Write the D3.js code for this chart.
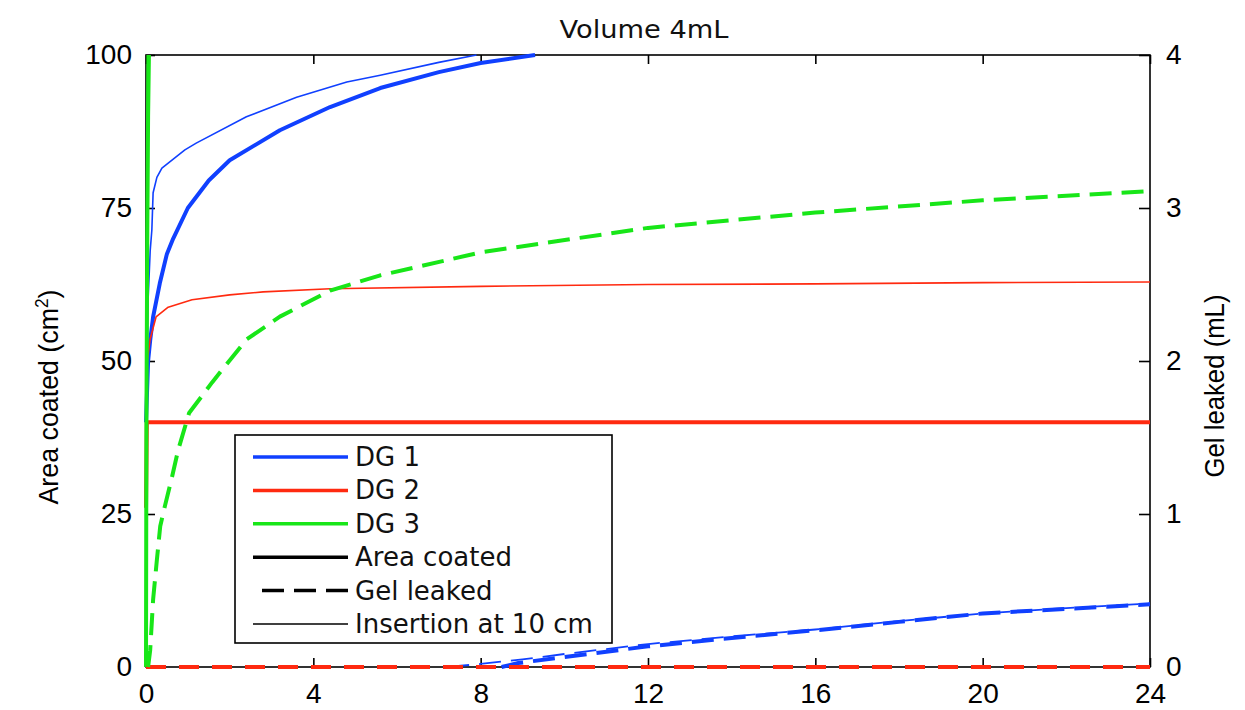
<!DOCTYPE html>
<html>
<head>
<meta charset="utf-8">
<script src="https://cdn.jsdelivr.net/npm/d3@7"></script>
<style>
  html, body { margin: 0; padding: 0; background: #fff; }
  svg { display: block; }
</style>
</head>
<body>
<svg id="chart" width="1245" height="710"></svg>
<script>
// ---------- data (time in hours, area in cm^2, gel in mL) ----------
const title = "Volume 4mL";
const xTicks = [0, 4, 8, 12, 16, 20, 24];
const yLeftTicks = [0, 25, 50, 75, 100];
const yRightTicks = [0, 1, 2, 3, 4];

// Area coated (left axis)
const dg1Area = [[0,40],[0.05,50],[0.1,53.4],[0.17,57.2],[0.33,62.7],[0.5,67.5],[0.65,70],[1,75],[1.5,79.5],[2,82.8],[3.2,87.7],[4.4,91.5],[5.6,94.6],[7,97.2],[8,98.7],[9.3,100]];
const dg1AreaIns = [[0,40],[0.05,60],[0.1,68],[0.14,71.4],[0.17,77.5],[0.26,80],[0.38,81.5],[0.93,84.5],[1.2,85.6],[2.4,89.9],[3.6,93.1],[4.8,95.6],[5.6,96.7],[7,98.8],[7.9,100]];
const dg2Area = [[0,26],[0.02,40],[24,40]];
const dg2AreaIns = [[0,40],[0.03,50],[0.1,53.6],[0.24,57.2],[0.53,58.8],[1.1,60],[2,60.8],[2.8,61.3],[4.4,61.8],[8,62.2],[12,62.5],[16,62.6],[20,62.8],[24,62.9]];
const dg3Area = [[0,0],[0.01,40],[0.03,70],[0.05,90],[0.07,100]];
const dg3AreaIns = [[0,0],[0.01,60],[0.03,100]];

// Gel leaked (right axis)
const dg1Gel = [[8.5,0],[8.9,0.026],[10,0.065],[12,0.135],[14,0.19],[16,0.24],[18,0.295],[20,0.35],[22,0.38],[24,0.41]];
const dg1GelIns = [[7.2,0],[8,0.02],[9,0.05],[10,0.085],[12,0.15],[14,0.2],[16,0.245],[18,0.3],[20,0.35],[22,0.385],[24,0.415]];
const dg2Gel = [[0,0],[24,0]];
const dg2GelIns = [[0,0],[24,0]];
const dg3Gel = [[0.05,0],[0.1,0.11],[0.17,0.44],[0.26,0.7],[0.34,0.92],[0.45,1.05],[0.62,1.24],[0.77,1.42],[1.03,1.66],[1.58,1.86],[2.4,2.14],[3.2,2.29],[4.4,2.46],[5.6,2.56],[8,2.71],[12,2.87],[16,2.97],[20,3.05],[24,3.11]];

const legendLabels = ["DG 1", "DG 2", "DG 3", "Area coated", "Gel leaked", "Insertion at 10 cm"];

// ---------- styles ----------
const BLUE = "#1040ff", RED = "#ff2a10", GREEN = "#18e618";
const TICKFONT = "'Liberation Sans', Arial, sans-serif";
const LEGFONT = "'DejaVu Sans', Verdana, sans-serif";

const svg = d3.select("#chart");
const L = 146, R = 1150, T = 55, B = 667;
const x = d3.scaleLinear().domain([0, 24]).range([L, R]);
const yL = d3.scaleLinear().domain([0, 100]).range([B, T]);
const yR = d3.scaleLinear().domain([0, 4]).range([B, T]);

// frame
svg.append("rect").attr("x", L).attr("y", T).attr("width", R - L).attr("height", B - T)
  .attr("fill", "none").attr("stroke", "#000").attr("stroke-width", 1.6);

// axes via d3 axis generators (inward ticks)
const fmt = d3.format("d");
const axB = svg.append("g").attr("transform", `translate(0,${B})`)
  .call(d3.axisBottom(x).tickValues(xTicks).tickSizeInner(-9).tickSizeOuter(0).tickPadding(16).tickFormat(fmt));
const axT = svg.append("g").attr("transform", `translate(0,${T})`)
  .call(d3.axisTop(x).tickValues(xTicks).tickSizeInner(-9).tickSizeOuter(0).tickFormat(""));
const axL = svg.append("g").attr("transform", `translate(${L},0)`)
  .call(d3.axisLeft(yL).tickValues(yLeftTicks).tickSizeInner(-9).tickSizeOuter(0).tickPadding(14).tickFormat(fmt));
const axR = svg.append("g").attr("transform", `translate(${R},0)`)
  .call(d3.axisRight(yR).tickValues(yRightTicks).tickSizeInner(-11).tickSizeOuter(0).tickPadding(16).tickFormat(fmt));
[axB, axT, axL, axR].forEach(g => {
  g.select(".domain").remove();
  g.selectAll(".tick line").attr("stroke", "#000").attr("stroke-width", 1.6);
  g.selectAll(".tick text").attr("fill", "#000").style("font-family", TICKFONT).style("font-size", "28px");
});
axL.selectAll(".tick text").attr("dy", "0.3em");
axR.selectAll(".tick text").attr("dy", "0.3em");
axB.selectAll(".tick text").attr("dy", "0.71em");

// lines
const lineL = d3.line().x(d => x(d[0])).y(d => yL(d[1]));
const lineR = d3.line().x(d => x(d[0])).y(d => yR(d[1]));
const gData = svg.append("g");
function draw(data, gen, color, width, dash) {
  gData.append("path").datum(data).attr("d", gen)
    .attr("fill", "none").attr("stroke", color).attr("stroke-width", width)
    .attr("stroke-dasharray", dash || null).attr("stroke-linejoin", "round");
}
draw(dg1Area, lineL, BLUE, 4);
draw(dg1AreaIns, lineL, BLUE, 1.6);
draw(dg2Area, lineL, RED, 4);
draw(dg2AreaIns, lineL, RED, 1.6);
draw(dg3Area, lineL, GREEN, 4);
draw(dg3AreaIns, lineL, GREEN, 1.6);
draw(dg1Gel, lineR, BLUE, 4, "22,10");
draw(dg1GelIns, lineR, BLUE, 1.8, "22,10");
draw(dg2Gel, lineR, RED, 4, "20,13");
draw(dg2GelIns, lineR, RED, 1.6, "20,13");
draw(dg3Gel, lineR, GREEN, 4, "22,10");

// title
svg.append("text").attr("x", 644).attr("y", 38).attr("text-anchor", "middle")
  .attr("textLength", 169).attr("lengthAdjust", "spacingAndGlyphs")
  .style("font-family", LEGFONT).style("font-size", "25px").attr("fill", "#111").text(title);

// axis labels
svg.append("text").attr("transform", "translate(58,397) rotate(-90)").attr("text-anchor", "middle")
  .attr("textLength", 215).attr("lengthAdjust", "spacingAndGlyphs")
  .style("font-family", TICKFONT).style("font-size", "28px").attr("fill", "#000")
  .html("Area coated (cm<tspan dy='-10' font-size='18px'>2</tspan><tspan dy='10'>)</tspan>");
svg.append("text").attr("transform", "translate(1224,386) rotate(-90)").attr("text-anchor", "middle")
  .attr("textLength", 183).attr("lengthAdjust", "spacingAndGlyphs")
  .style("font-family", TICKFONT).style("font-size", "28px").attr("fill", "#000").text("Gel leaked (mL)");

// legend
const lg = svg.append("g");
lg.append("rect").attr("x", 235).attr("y", 435).attr("width", 377).attr("height", 208)
  .attr("fill", "#fff").attr("stroke", "#000").attr("stroke-width", 1.6);
const legStyles = [
  {c: BLUE, w: 3.5}, {c: RED, w: 3.5}, {c: GREEN, w: 3.5},
  {c: "#000", w: 3.5}, {c: "#000", w: 3.5, dash: "22,10"}, {c: "#000", w: 1.6}
];
legendLabels.forEach((lab, i) => {
  const yy = 457 + i * 33.4;
  const s = legStyles[i];
  lg.append("line").attr("x1", s.dash ? 262 : 253).attr("x2", 348).attr("y1", yy).attr("y2", yy)
    .attr("stroke", s.c).attr("stroke-width", s.w).attr("stroke-dasharray", s.dash || null);
  lg.append("text").attr("x", 355).attr("y", yy + 9)
    .style("font-family", LEGFONT).style("font-size", "26px").attr("fill", "#111").text(lab);
});
</script>
</body>
</html>
